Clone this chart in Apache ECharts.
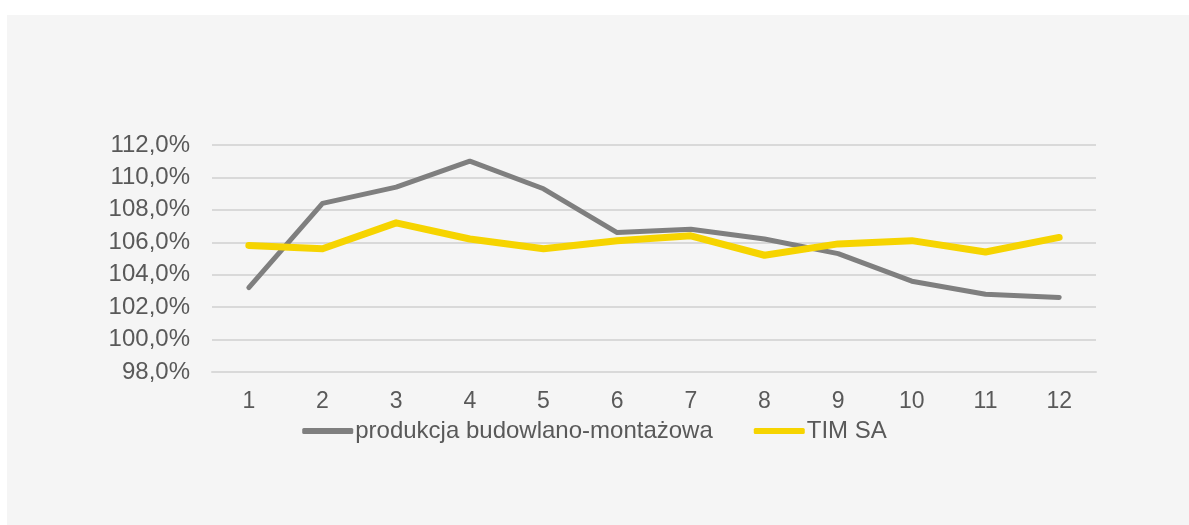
<!DOCTYPE html>
<html>
<head>
<meta charset="utf-8">
<script src="https://cdn.jsdelivr.net/npm/echarts@6/dist/echarts.min.js"></script>
<style>
  html, body { margin: 0; padding: 0; background: #ffffff; }
  #chart { width: 1189px; height: 525px; }
</style>
</head>
<body>
<div id="chart"></div>
<script>
// Months 1–12 and year-on-year dynamics (%)
const months = ['1', '2', '3', '4', '5', '6', '7', '8', '9', '10', '11', '12'];
const produkcjaBudowlana = [103.2, 108.4, 109.4, 111.0, 109.3, 106.6, 106.8, 106.2, 105.3, 103.6, 102.8, 102.6];
const timSA = [105.8, 105.6, 107.2, 106.2, 105.6, 106.1, 106.4, 105.2, 105.9, 106.1, 105.4, 106.3];
const seriesNames = ['produkcja budowlano-montażowa', 'TIM SA'];

const font = '"Liberation Sans", Arial, sans-serif';
const textColor = '#595959';

const chart = echarts.init(document.getElementById('chart'), null, { renderer: 'canvas' });

chart.setOption({
  backgroundColor: '#ffffff',
  animation: false,
  graphic: [{
    type: 'rect',
    z: -10,
    silent: true,
    shape: { x: 7, y: 15, width: 1182, height: 510 },
    style: { fill: '#f5f5f5' }
  }],
  grid: { left: 212, right: 93, top: 145, bottom: 153, containLabel: false },
  legend: {
    top: 414,
    left: 'center',
    itemWidth: 51,
    itemHeight: 6,
    itemGap: 41,
    icon: 'roundRect',
    textStyle: { color: textColor, fontSize: 24, fontFamily: font, padding: [0, 0, 0, -3] },
    data: [
      { name: seriesNames[0], itemStyle: { color: '#7f7f7f' } },
      { name: seriesNames[1], itemStyle: { color: '#f6d400' } }
    ]
  },
  xAxis: {
    type: 'category',
    data: months,
    boundaryGap: true,
    axisLine: { show: true, lineStyle: { color: '#d9d9d9', width: 2 } },
    axisTick: { show: false },
    axisLabel: { color: textColor, fontSize: 23, fontFamily: font, margin: 18 }
  },
  yAxis: {
    type: 'value',
    min: 98,
    max: 112,
    interval: 2,
    axisLine: { show: false },
    axisTick: { show: false },
    splitLine: { lineStyle: { color: '#d9d9d9', width: 2 } },
    axisLabel: {
      color: textColor,
      fontSize: 24,
      fontFamily: font,
      margin: 22,
      formatter: v => v.toFixed(1).replace('.', ',') + '%'
    }
  },
  series: [
    {
      name: seriesNames[0],
      type: 'line',
      data: produkcjaBudowlana,
      symbol: 'none',
      lineStyle: { color: '#7f7f7f', width: 5, cap: 'round', join: 'round' },
      itemStyle: { color: '#7f7f7f' },
      z: 3
    },
    {
      name: seriesNames[1],
      type: 'line',
      data: timSA,
      symbol: 'none',
      lineStyle: { color: '#f6d400', width: 7, cap: 'round', join: 'round' },
      itemStyle: { color: '#f6d400' },
      z: 4
    }
  ]
});
</script>
</body>
</html>
